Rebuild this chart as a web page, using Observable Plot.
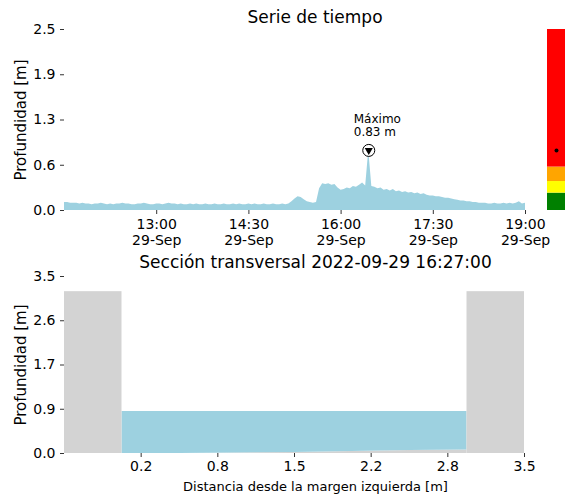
<!DOCTYPE html>
<html><head><meta charset="utf-8">
<script src="https://cdn.jsdelivr.net/npm/d3@7"></script>
<script src="https://cdn.jsdelivr.net/npm/@observablehq/plot@0.6"></script>
<style>
body{margin:0;background:#fff;}
#wrap{position:relative;width:565px;height:496px;font-family:"DejaVu Sans",sans-serif;}
#wrap svg{position:absolute;}
</style></head><body><div id="wrap"></div>
<script>
// ---- time series data (3-minute steps from 11:30) ----
const seriesStart = new Date(2022, 8, 29, 11, 30);
const seriesEnd = new Date(2022, 8, 29, 19, 0);
const stepMinutes = 3;
const depth = [
  0.11,0.11,0.10,0.10,0.10,0.09,0.10,0.09,0.09,0.08,0.09,
  0.09,0.10,0.09,0.08,0.09,0.08,0.09,0.09,0.10,0.09,
  0.09,0.08,0.08,0.09,0.09,0.10,0.09,0.08,0.08,0.09,
  0.09,0.08,0.09,0.10,0.09,0.09,0.08,0.09,0.08,0.08,
  0.09,0.08,0.09,0.08,0.08,0.09,0.08,0.08,0.09,0.08,
  0.08,0.09,0.08,0.08,0.09,0.08,0.09,0.08,0.08,0.09,
  0.08,0.09,0.08,0.08,0.09,0.08,0.08,0.09,0.08,0.08,
  0.09,0.08,0.09,0.12,0.16,0.19,0.18,0.15,0.12,0.11,
  0.10,0.11,0.30,0.37,0.36,0.37,0.35,0.36,0.31,0.28,
  0.29,0.31,0.30,0.33,0.32,0.35,0.38,0.34,0.83,0.33,
  0.32,0.30,0.31,0.28,0.29,0.27,0.29,0.26,0.27,0.25,
  0.26,0.24,0.25,0.23,0.24,0.22,0.23,0.21,0.20,0.20,
  0.19,0.19,0.18,0.17,0.17,0.16,0.15,0.14,0.13,0.13,
  0.12,0.12,0.11,0.11,0.10,0.10,0.10,0.09,0.09,0.10,
  0.09,0.09,0.10,0.09,0.10,0.09,0.10,0.12,0.09,0.10
];
const timeTicks = [
  new Date(2022, 8, 29, 13, 0), new Date(2022, 8, 29, 14, 30),
  new Date(2022, 8, 29, 16, 0), new Date(2022, 8, 29, 17, 30),
  new Date(2022, 8, 29, 19, 0)
];
const timeTickLabels = ["13:00\n29-Sep","14:30\n29-Sep","16:00\n29-Sep","17:30\n29-Sep","19:00\n29-Sep"];
const yTicksTop = [0, 0.625, 1.25, 1.875, 2.5];
const yTickLabelsTop = ["0.0","0.6","1.3","1.9","2.5"];
const maxTime = new Date(2022, 8, 29, 16, 27);
const maxDepth = 0.83;

// ---- alert colour bar ----
const alertLow = [0, 0.24, 0.4, 0.6];
const alertHigh = [0.24, 0.4, 0.6, 2.5];
const alertColors = ["green", "yellow", "orange", "red"];
const currentDepth = 0.83;

// ---- cross section ----
const wallX1 = [-0.5, 3.0];
const wallX2 = [0.0, 3.5];
const wallTop = [3.2, 3.2];
const bedDist = [0, 0.5, 1.0, 1.5, 2.0, 2.5, 3.0];
const bedElev = [0.0, 0.0, 0.01, 0.02, 0.04, 0.06, 0.07];
const waterLevel = 0.83;
const xTicksBottom = [0.1667, 0.8333, 1.5, 2.1667, 2.8333, 3.5];
const xTickLabelsBottom = ["0.2","0.8","1.5","2.2","2.8","3.5"];
const yTicksBottom = [0, 0.875, 1.75, 2.625, 3.5];
const yTickLabelsBottom = ["0.0","0.9","1.7","2.6","3.5"];

const waterColor = "#9dd1e0";
const groundColor = "lightgray";
const font = "DejaVu Sans";
const tickColor = "#333";

const series = depth.map((v, i) => ({t: new Date(seriesStart.getTime() + i * stepMinutes * 60000), v}));
const lookup = (ticks, labels) => d => { const i = ticks.findIndex(t => +t === +d); return i < 0 ? "" : labels[i]; };

const wrap = document.getElementById("wrap");

const topPlot = Plot.plot({
  width: 565, height: 250,
  marginLeft: 64, marginRight: 40, marginTop: 29, marginBottom: 40,
  style: {fontFamily: font, fontSize: "14px", color: "black", background: "transparent", overflow: "visible"},
  x: {type: "time", domain: [seriesStart, seriesEnd]},
  y: {domain: [0, 2.5]},
  marks: [
    Plot.areaY(series, {x: "t", y: "v", fill: waterColor}),
    Plot.axisX({ticks: timeTicks, tickFormat: lookup(timeTicks, timeTickLabels), tickSize: 4, tickPadding: 4, label: null, stroke: tickColor, fill: "black", lineHeight: 1.1}),
    Plot.axisY({ticks: yTicksTop, tickFormat: lookup(yTicksTop, yTickLabelsTop), tickSize: 4, tickPadding: 5, label: null, stroke: tickColor, fill: "black"}),
    Plot.text(["Serie de tiempo"], {text: d => d, frameAnchor: "top", lineAnchor: "bottom", dx: 20, dy: -7, fontSize: 17}),
    Plot.text(["Profundidad [m]"], {text: d => d, frameAnchor: "left", textAnchor: "middle", lineAnchor: "middle", rotate: -90, dx: -43, fontSize: 15}),
    Plot.dot([{t: maxTime, v: maxDepth}], {x: "t", y: "v", r: 6, stroke: "black", fill: "white", strokeWidth: 1}),
    Plot.dot([{t: maxTime, v: maxDepth}], {x: "t", y: "v", r: 3, symbol: "triangle", rotate: 180, fill: "black"}),
    Plot.text([{t: maxTime, v: maxDepth}], {x: "t", y: "v", text: d => `Máximo\n${d.v.toFixed(2)} m`, textAnchor: "start", lineAnchor: "bottom", dx: -15, dy: -14, fontSize: 12, lineHeight: 1.1})
  ]
});
topPlot.style.left = "0px"; topPlot.style.top = "0px";
wrap.appendChild(topPlot);

const bands = alertLow.map((lo, i) => ({lo, hi: alertHigh[i], color: alertColors[i]}));
const barPlot = Plot.plot({
  width: 18, height: 250,
  marginLeft: 0, marginRight: 0, marginTop: 29, marginBottom: 40,
  style: {background: "transparent", overflow: "visible"},
  x: {axis: null, domain: [0, 1]},
  y: {axis: null, domain: [0, 2.5]},
  color: {type: "identity"},
  marks: [
    Plot.rect(bands, {y1: "lo", y2: "hi", fill: "color"}),
    Plot.dot([currentDepth], {y: d => d, r: 2, fill: "black"})
  ]
});
barPlot.style.left = "547px"; barPlot.style.top = "0px";
wrap.appendChild(barPlot);

const bed = bedDist.map((d, i) => ({d, e: bedElev[i]}));
const walls = wallX1.map((x1, i) => ({x1, x2: wallX2[i], top: wallTop[i]}));
const botPlot = Plot.plot({
  width: 565, height: 246,
  marginLeft: 64, marginRight: 41, marginTop: 26, marginBottom: 43,
  style: {fontFamily: font, fontSize: "14px", color: "black", background: "transparent", overflow: "visible"},
  x: {domain: [-0.5, 3.5]},
  y: {domain: [0, 3.5]},
  marks: [
    Plot.areaY(bed, {x: "d", y1: () => 0, y2: "e", fill: groundColor}),
    Plot.areaY(bed, {x: "d", y1: "e", y2: () => waterLevel, fill: waterColor}),
    Plot.rect(walls, {x1: "x1", x2: "x2", y1: () => 0, y2: "top", fill: groundColor}),
    Plot.axisX({ticks: xTicksBottom, tickFormat: lookup(xTicksBottom, xTickLabelsBottom), tickSize: 4, tickPadding: 4, label: null, stroke: tickColor, fill: "black"}),
    Plot.axisY({ticks: yTicksBottom, tickFormat: lookup(yTicksBottom, yTickLabelsBottom), tickSize: 4, tickPadding: 5, label: null, stroke: tickColor, fill: "black"}),
    Plot.text(["Sección transversal 2022-09-29 16:27:00"], {text: d => d, frameAnchor: "top", lineAnchor: "bottom", dx: 21, dy: -9, fontSize: 17}),
    Plot.text(["Profundidad [m]"], {text: d => d, frameAnchor: "left", textAnchor: "middle", lineAnchor: "middle", rotate: -90, dx: -43, fontSize: 15}),
    Plot.text(["Distancia desde la margen izquierda [m]"], {text: d => d, frameAnchor: "bottom", lineAnchor: "bottom", dx: 21, dy: 37, fontSize: 13})
  ]
});
botPlot.style.left = "0px"; botPlot.style.top = "250px";
wrap.appendChild(botPlot);
</script>
</body></html>
